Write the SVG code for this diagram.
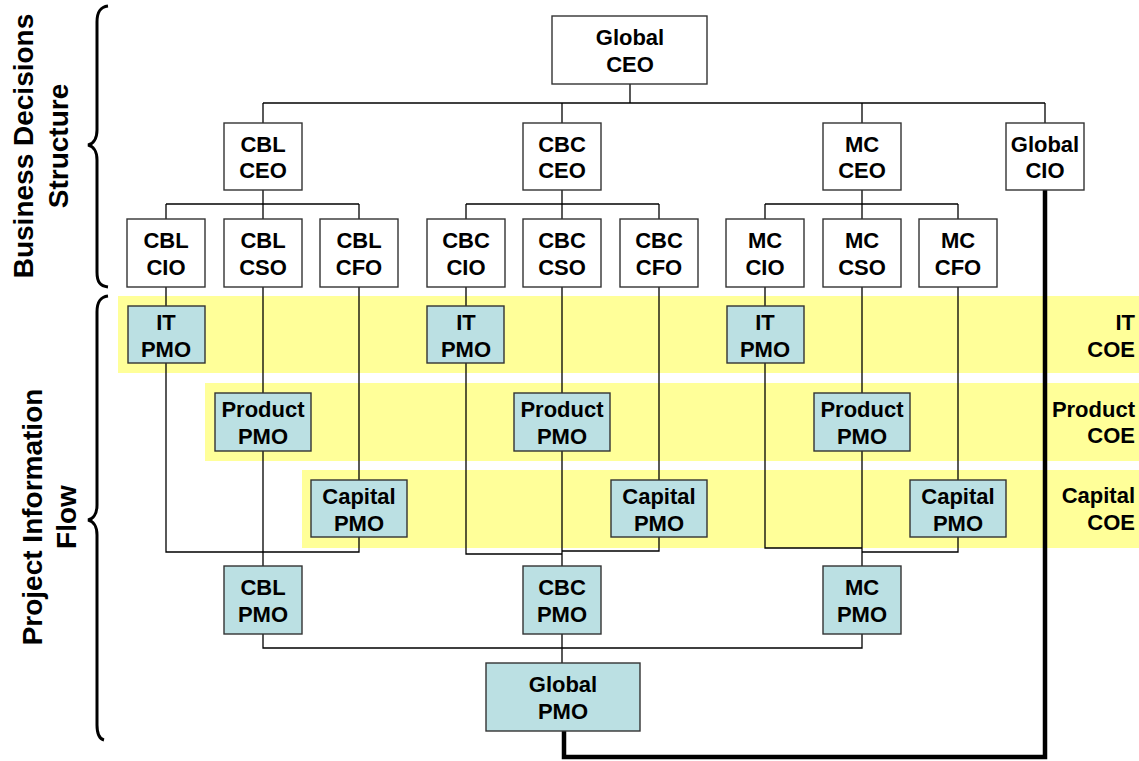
<svg xmlns="http://www.w3.org/2000/svg" width="1139" height="761" viewBox="0 0 1139 761">
<style>
text{font-family:"Liberation Sans",Arial,sans-serif;font-weight:bold;font-size:22px;fill:#000}
.t{text-anchor:middle}
.e{text-anchor:end}
.side{font-size:28px;text-anchor:middle}
.w{fill:#fff;stroke:#333;stroke-width:1.4}
.p{fill:#bbe0e3;stroke:#333;stroke-width:1.4}
.band{fill:#ffff99}
.c line,.c path{stroke:#000;stroke-width:1.3;fill:none}
.c .thick{stroke-width:4.5}
.brace{fill:none;stroke:#000;stroke-width:3}
</style>
<rect width="1139" height="761" fill="#fff"/>
<g id="bands">
<rect class="band" x="118" y="296" width="1021" height="77"/>
<rect class="band" x="205" y="383" width="934" height="78"/>
<rect class="band" x="302" y="470" width="837" height="78"/>
</g>
<g id="braces">
<path class="brace" d="M108,6 C100,7 97,12 97,22 L97,130 C97,139 93,144 88,145 C93,146 97,151 97,160 L97,272 C97,282 100,286 108,287"/>
<path class="brace" d="M108,296 C100,297 97,302 97,312 L97,505 C97,514 93,519 88,520 C93,521 97,526 97,535 L97,725 C97,735 100,739 104,740"/>
</g>
<g id="side-labels">
<text class="side" transform="translate(33,146) rotate(-90)">Business Decisions</text>
<text class="side" transform="translate(68,146) rotate(-90)">Structure</text>
<text class="side" transform="translate(42,517) rotate(-90)">Project Information</text>
<text class="side" transform="translate(76,517) rotate(-90)">Flow</text>
</g>
<g id="coe-labels">
<text class="e" x="1135" y="330">IT</text><text class="e" x="1135" y="357">COE</text>
<text class="e" x="1135" y="417">Product</text><text class="e" x="1135" y="443">COE</text>
<text class="e" x="1135" y="503">Capital</text><text class="e" x="1135" y="530">COE</text>
</g>
<g id="connectors" class="c">
<line x1="630" y1="84" x2="630" y2="103"/>
<line x1="263" y1="103" x2="1045" y2="103"/>
<line x1="263" y1="103" x2="263" y2="123"/>
<line x1="562" y1="103" x2="562" y2="123"/>
<line x1="862" y1="103" x2="862" y2="123"/>
<line x1="1045" y1="103" x2="1045" y2="123"/>
<line x1="263" y1="190" x2="263" y2="219"/>
<line x1="166" y1="204" x2="359" y2="204"/>
<line x1="166" y1="204" x2="166" y2="219"/>
<line x1="359" y1="204" x2="359" y2="219"/>
<line x1="562" y1="190" x2="562" y2="219"/>
<line x1="466" y1="204" x2="659" y2="204"/>
<line x1="466" y1="204" x2="466" y2="219"/>
<line x1="659" y1="204" x2="659" y2="219"/>
<line x1="862" y1="190" x2="862" y2="219"/>
<line x1="765" y1="204" x2="958" y2="204"/>
<line x1="765" y1="204" x2="765" y2="219"/>
<line x1="958" y1="204" x2="958" y2="219"/>
<path d="M166,287 V552 H263 M359,287 V552 H263 M263,287 V566"/>
<path d="M466,287 V554 H562 M659,287 V551 H562 M562,287 V566"/>
<path d="M765,287 V548 H862 M958,287 V552 H862 M862,287 V566"/>
<path d="M263,634 V648 H862 V634 M562,634 V663"/>
<path class="thick" d="M1045,190 V757 H564 V731"/>
</g>
<g id="global-ceo"><rect class="w" x="552" y="16" width="155" height="68"/><text class="t" x="630" y="45">Global</text><text class="t" x="630" y="72">CEO</text></g>
<g id="cbl-ceo"><rect class="w" x="224" y="123" width="78" height="67"/><text class="t" x="263" y="152">CBL</text><text class="t" x="263" y="178">CEO</text></g>
<g id="cbc-ceo"><rect class="w" x="523" y="123" width="78" height="67"/><text class="t" x="562" y="152">CBC</text><text class="t" x="562" y="178">CEO</text></g>
<g id="mc-ceo"><rect class="w" x="823" y="123" width="78" height="67"/><text class="t" x="862" y="152">MC</text><text class="t" x="862" y="178">CEO</text></g>
<g id="global-cio"><rect class="w" x="1006" y="123" width="78" height="67"/><text class="t" x="1045" y="152">Global</text><text class="t" x="1045" y="178">CIO</text></g>
<g id="cbl-cio"><rect class="w" x="127" y="219" width="78" height="68"/><text class="t" x="166" y="248">CBL</text><text class="t" x="166" y="275">CIO</text></g>
<g id="cbl-cso"><rect class="w" x="224" y="219" width="78" height="68"/><text class="t" x="263" y="248">CBL</text><text class="t" x="263" y="275">CSO</text></g>
<g id="cbl-cfo"><rect class="w" x="320" y="219" width="78" height="68"/><text class="t" x="359" y="248">CBL</text><text class="t" x="359" y="275">CFO</text></g>
<g id="cbc-cio"><rect class="w" x="427" y="219" width="78" height="68"/><text class="t" x="466" y="248">CBC</text><text class="t" x="466" y="275">CIO</text></g>
<g id="cbc-cso"><rect class="w" x="523" y="219" width="78" height="68"/><text class="t" x="562" y="248">CBC</text><text class="t" x="562" y="275">CSO</text></g>
<g id="cbc-cfo"><rect class="w" x="620" y="219" width="78" height="68"/><text class="t" x="659" y="248">CBC</text><text class="t" x="659" y="275">CFO</text></g>
<g id="mc-cio"><rect class="w" x="726" y="219" width="78" height="68"/><text class="t" x="765" y="248">MC</text><text class="t" x="765" y="275">CIO</text></g>
<g id="mc-cso"><rect class="w" x="823" y="219" width="78" height="68"/><text class="t" x="862" y="248">MC</text><text class="t" x="862" y="275">CSO</text></g>
<g id="mc-cfo"><rect class="w" x="919" y="219" width="78" height="68"/><text class="t" x="958" y="248">MC</text><text class="t" x="958" y="275">CFO</text></g>
<g id="cbl-it-pmo"><rect class="p" x="128" y="306" width="77" height="57"/><text class="t" x="166" y="330">IT</text><text class="t" x="166" y="357">PMO</text></g>
<g id="cbc-it-pmo"><rect class="p" x="427" y="306" width="77" height="57"/><text class="t" x="466" y="330">IT</text><text class="t" x="466" y="357">PMO</text></g>
<g id="mc-it-pmo"><rect class="p" x="727" y="306" width="77" height="57"/><text class="t" x="765" y="330">IT</text><text class="t" x="765" y="357">PMO</text></g>
<g id="cbl-product-pmo"><rect class="p" x="215" y="393" width="96" height="58"/><text class="t" x="263" y="417">Product</text><text class="t" x="263" y="444">PMO</text></g>
<g id="cbc-product-pmo"><rect class="p" x="514" y="393" width="96" height="58"/><text class="t" x="562" y="417">Product</text><text class="t" x="562" y="444">PMO</text></g>
<g id="mc-product-pmo"><rect class="p" x="814" y="393" width="96" height="58"/><text class="t" x="862" y="417">Product</text><text class="t" x="862" y="444">PMO</text></g>
<g id="cbl-capital-pmo"><rect class="p" x="311" y="480" width="96" height="57"/><text class="t" x="359" y="504">Capital</text><text class="t" x="359" y="531">PMO</text></g>
<g id="cbc-capital-pmo"><rect class="p" x="611" y="480" width="96" height="57"/><text class="t" x="659" y="504">Capital</text><text class="t" x="659" y="531">PMO</text></g>
<g id="mc-capital-pmo"><rect class="p" x="910" y="480" width="96" height="57"/><text class="t" x="958" y="504">Capital</text><text class="t" x="958" y="531">PMO</text></g>
<g id="cbl-pmo"><rect class="p" x="224" y="566" width="78" height="68"/><text class="t" x="263" y="595">CBL</text><text class="t" x="263" y="622">PMO</text></g>
<g id="cbc-pmo"><rect class="p" x="523" y="566" width="78" height="68"/><text class="t" x="562" y="595">CBC</text><text class="t" x="562" y="622">PMO</text></g>
<g id="mc-pmo"><rect class="p" x="823" y="566" width="78" height="68"/><text class="t" x="862" y="595">MC</text><text class="t" x="862" y="622">PMO</text></g>
<g id="global-pmo"><rect class="p" x="486" y="663" width="154" height="68"/><text class="t" x="563" y="692">Global</text><text class="t" x="563" y="719">PMO</text></g>
</svg>
